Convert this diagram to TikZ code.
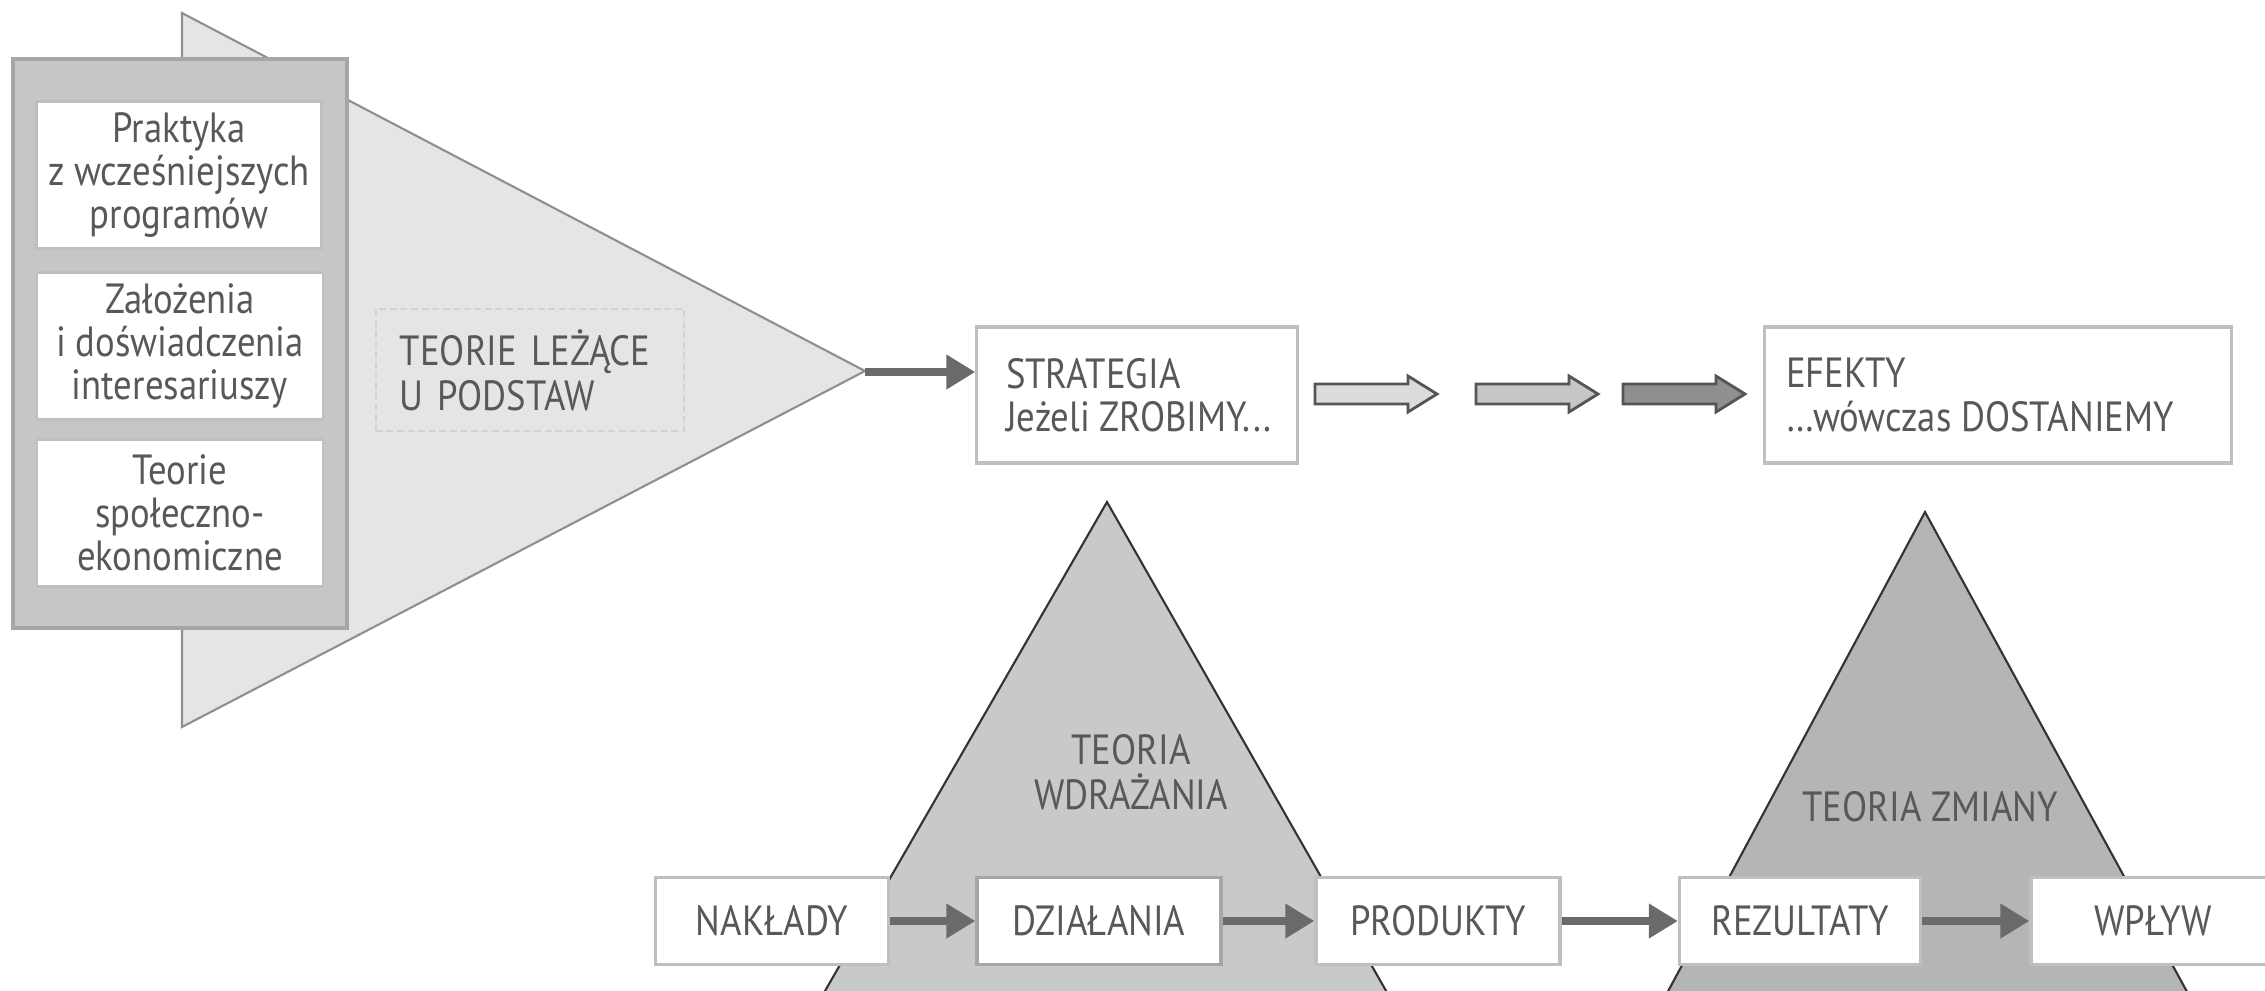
\documentclass[tikz,border=0pt]{standalone}
\usepackage{fontspec}
\setmainfont{PT Sans}[FakeStretch=0.87]
\usetikzlibrary{arrows.meta,positioning}

\definecolor{txtgray}{HTML}{585858}
\definecolor{basetri}{HTML}{E4E5E6}
\definecolor{baseline}{HTML}{8F8F8F}
\definecolor{srcback}{HTML}{C5C6C8}
\definecolor{srcline}{HTML}{A5A6A8}
\definecolor{impltri}{HTML}{C8C9CB}
\definecolor{changetri}{HTML}{B4B5B7}
\definecolor{triline}{HTML}{333333}
\definecolor{boxline}{HTML}{BFBFBF}
\definecolor{arrgray}{HTML}{6A6A6A}
\definecolor{blkA}{HTML}{DCDCDC}
\definecolor{blkB}{HTML}{C6C6C6}
\definecolor{blkC}{HTML}{8F8F8F}
\definecolor{blkline}{HTML}{555555}
\definecolor{dashcol}{HTML}{D2D2D2}

\begin{document}
\begin{tikzpicture}[x=0.01cm,y=-0.01cm,
    every node/.style={text=txtgray,font=\fontsize{12}{12.3}\selectfont},
    srcbox/.style={draw=boxline,fill=white,line width=0.8pt,minimum width=2.85cm,
        minimum height=1.47cm,align=center,inner sep=0pt},
    topbox/.style={draw=boxline,fill=white,line width=0.9pt,minimum height=1.36cm,
        inner sep=0pt},
    toptext/.style={anchor=west,align=left,inner sep=0pt},
    flowbox/.style={draw=boxline,fill=white,line width=0.9pt,minimum width=2.44cm,
        minimum height=0.87cm,inner sep=0pt},
    flowarrow/.style={draw=arrgray,line width=2.3pt,-{Triangle[length=0.29cm,width=0.33cm]}},
    tribox/.style={draw=triline,line width=0.6pt},
    pics/blockarrow/.style={code={
        \path[pic actions] (0,-10) -- (93,-10) -- (93,-18) -- (122,0) -- (93,18)
            -- (93,10) -- (0,10) -- cycle;}}
]
    \useasboundingbox (0,0) rectangle (2265,990);
    \clip (0,0) rectangle (2265,990);

    % Draw big triangle of the underlying theories
    \draw[fill=basetri,draw=baseline,line width=0.6pt] (182,13) -- (865,371) -- (182,727) -- cycle;
    \coordinate (apex) at (865,372);

    % Draw grey panel with the sources
    \draw[fill=srcback,draw=srcline,line width=0.9pt] (13,59) rectangle (347,628);
    \node[srcbox] (praktyka) at (179,175) {Praktyka\\z wcześniejszych\\programów};
    \node[srcbox,minimum width=2.86cm] (zalozenia) at (180,346) {Założenia\\i doświadczenia\\interesariuszy};
    \node[srcbox,minimum width=2.86cm] (teorie) at (180,513) {Teorie\\społeczno-\\ekonomiczne};

    % Draw label of the triangle
    \node[draw=dashcol,dash pattern=on 2pt off 1pt,line width=0.6pt,text width=2.6cm,
        inner xsep=0.24cm,minimum height=1.22cm,align=left,
        font=\fontsize{12}{12.8}\selectfont] (podstawy) at (530,370) {TEORIE LEŻĄCE\\U PODSTAW};

    % Draw strategy and effects
    \node[topbox,minimum width=3.2cm] (strategia) at (1137,395) {};
    \node[toptext] (strategiatxt) at ([xshift=0.3cm]strategia.west) {STRATEGIA\\Jeżeli ZROBIMY...};
    \node[topbox,minimum width=4.66cm] (efekty) at (1998,395) {};
    \node[toptext] (efektytxt) at ([xshift=0.22cm]efekty.west) {EFEKTY\\…wówczas DOSTANIEMY};
    \draw[flowarrow] (apex) -- (apex -| strategia.west);

    % Draw block arrows
    \pic[draw=blkline,line width=0.8pt,fill=blkA] at (1315,394) {blockarrow};
    \pic[draw=blkline,line width=0.8pt,fill=blkB] at (1476,394) {blockarrow};
    \pic[draw=blkline,line width=0.8pt,fill=blkC] at (1623,394) {blockarrow};

    % Draw the two theory triangles
    \draw[tribox,fill=impltri] (1107,502) -- (1397,1010) -- (814,1010) -- cycle;
    \draw[tribox,fill=changetri] (1925,512) -- (2197,1010) -- (1658,1010) -- cycle;
    \node[align=center,font=\fontsize{12}{12.8}\selectfont] (wdrazanie) at (1131,772) {TEORIA\\WDRAŻANIA};
    \node (zmiana) at (1930,807) {TEORIA ZMIANY};

    % Draw the chain from inputs to impact
    \node[flowbox,minimum width=2.33cm] (naklady) at (772,921) {NAKŁADY};
    \node[flowbox,draw=srcline] (dzialania) at (1099,921) {DZIAŁANIA};
    \node[flowbox] (produkty) at (1438,921) {PRODUKTY};
    \node[flowbox,minimum width=2.41cm] (rezultaty) at (1800,921) {REZULTATY};
    \node[flowbox] (wplyw) at (2153,921) {WPŁYW};
    \draw[flowarrow] (naklady) -- (dzialania);
    \draw[flowarrow] (dzialania) -- (produkty);
    \draw[flowarrow] (produkty) -- (rezultaty);
    \draw[flowarrow] (rezultaty) -- (wplyw);
\end{tikzpicture}
\end{document}
